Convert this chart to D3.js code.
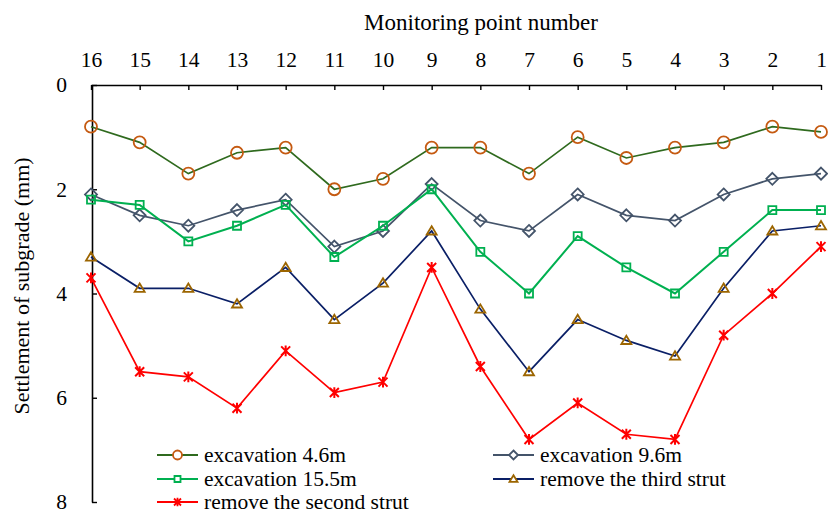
<!DOCTYPE html>
<html>
<head>
<meta charset="utf-8">
<script src="https://cdn.jsdelivr.net/npm/d3@7"></script>
<style>
  html, body { margin: 0; padding: 0; background: #fff; }
  svg { display: block; font-family: "Liberation Serif", "Times New Roman", serif; }
</style>
</head>
<body>
<div id="chart"></div>
<script>
// monitoring points, read right-to-left as in the original figure
const points = [16, 15, 14, 13, 12, 11, 10, 9, 8, 7, 6, 5, 4, 3, 2, 1];
const yTicks = [0, 2, 4, 6, 8];

const seriesNames = [
    'excavation 4.6m',
    'excavation 9.6m',
    'excavation 15.5m',
    'remove the third strut',
    'remove the second strut'
];

const exc46 = [0.8, 1.1, 1.7, 1.3, 1.2, 2.0, 1.8, 1.2, 1.2, 1.7, 1.0, 1.4, 1.2, 1.1, 0.8, 0.9];
const exc96 = [2.1, 2.5, 2.7, 2.4, 2.2, 3.1, 2.8, 1.9, 2.6, 2.8, 2.1, 2.5, 2.6, 2.1, 1.8, 1.7];
const exc155 = [2.2, 2.3, 3.0, 2.7, 2.3, 3.3, 2.7, 2.0, 3.2, 4.0, 2.9, 3.5, 4.0, 3.2, 2.4, 2.4];
const removeThird = [3.3, 3.9, 3.9, 4.2, 3.5, 4.5, 3.8, 2.8, 4.3, 5.5, 4.5, 4.9, 5.2, 3.9, 2.8, 2.7];
const removeSecond = [3.7, 5.5, 5.6, 6.2, 5.1, 5.9, 5.7, 3.5, 5.4, 6.8, 6.1, 6.7, 6.8, 4.8, 4.0, 3.1];

const width = 828;
const height = 513;

// style per series
const styles = [
    { line: '#2f6a1e', marker: '#c55a11', shape: 'circle' },
    { line: '#44546a', marker: '#44546a', shape: 'diamond' },
    { line: '#00b050', marker: '#00b050', shape: 'square' },
    { line: '#0a1f66', marker: '#9c6500', shape: 'triangle' },
    { line: '#ff0000', marker: '#ff0000', shape: 'star' }
];

const seriesData = [exc46, exc96, exc155, removeThird, removeSecond];

const svg = d3.select('#chart')
    .append('svg')
    .attr('width', width)
    .attr('height', height);

const xScale = d3.scalePoint()
    .domain(points)
    .range([91, 821]);

const yScale = d3.scaleLinear()
    .domain([0, 8])
    .range([85, 502]);

// marker paths, centred at 0,0
function markerPath(shape, s) {
    if (shape === 'circle') {
        const p = d3.path();
        p.arc(0, 0, s, 0, Math.PI * 2);
        return p.toString();
    }
    if (shape === 'square') {
        return `M${-s},${-s}H${s}V${s}H${-s}Z`;
    }
    if (shape === 'diamond') {
        return `M0,${-s}L${s},0L0,${s}L${-s},0Z`;
    }
    if (shape === 'triangle') {
        const h = s * 0.95;
        return `M0,${-h}L${s},${h * 0.75}L${-s},${h * 0.75}Z`;
    }
    // asterisk: x plus vertical bar
    return `M${-s},${-s}L${s},${s}M${-s},${s}L${s},${-s}M0,${-s * 1.2}V${s * 1.2}`;
}

// top axis (monitoring points)
const xAxis = d3.axisTop(xScale)
    .tickSize(-5)
    .tickSizeOuter(0)
    .tickPadding(18);

svg.append('g')
    .attr('id', 'x-axis')
    .attr('transform', `translate(0, ${yScale(0)})`)
    .call(xAxis)
    .call(g => g.select('.domain').attr('stroke', '#000').attr('stroke-width', 1.6))
    .call(g => g.selectAll('.tick line').attr('stroke', '#000').attr('stroke-width', 1.4))
    .call(g => g.selectAll('.tick text')
        .attr('fill', '#000')
        .style('font-family', '"Liberation Serif", serif')
        .style('font-size', '21.5px'));

// left axis (settlement)
const yAxis = d3.axisLeft(yScale)
    .tickValues(yTicks)
    .tickSize(-5)
    .tickSizeOuter(0)
    .tickPadding(25);

svg.append('g')
    .attr('id', 'y-axis')
    .attr('transform', `translate(${xScale(16) + 1}, 0)`)
    .call(yAxis)
    .call(g => g.select('.domain').attr('stroke', '#000').attr('stroke-width', 1.6))
    .call(g => g.selectAll('.tick line').attr('stroke', '#000').attr('stroke-width', 1.4))
    .call(g => g.selectAll('.tick text')
        .attr('fill', '#000')
        .style('font-family', '"Liberation Serif", serif')
        .style('font-size', '21.5px'));

// axis titles
svg.append('text')
    .attr('x', 481)
    .attr('y', 30)
    .attr('text-anchor', 'middle')
    .style('font-size', '23px')
    .text('Monitoring point number');

svg.append('text')
    .attr('transform', 'translate(29, 286) rotate(-90)')
    .attr('text-anchor', 'middle')
    .style('font-size', '22px')
    .text('Settlement of subgrade (mm)');

// series lines + markers
const line = d3.line()
    .x(d => xScale(d.point))
    .y(d => yScale(d.value));

seriesData.forEach((values, i) => {
    const st = styles[i];
    const rows = points.map((p, j) => ({ point: p, value: values[j] }));
    const g = svg.append('g').attr('class', 'series');

    g.append('path')
        .datum(rows)
        .attr('fill', 'none')
        .attr('stroke', st.line)
        .attr('stroke-width', i === 2 ? 2 : 1.7)
        .attr('d', line);

    const size = { circle: 6, square: 4, diamond: 6, triangle: 5, star: 4.5 }[st.shape];
    g.selectAll('.mark')
        .data(rows)
        .enter()
        .append('path')
        .attr('class', 'mark')
        .attr('transform', d => `translate(${xScale(d.point)}, ${yScale(d.value)})`)
        .attr('d', markerPath(st.shape, size))
        .attr('fill', 'none')
        .attr('stroke', st.marker)
        .attr('stroke-width', st.shape === 'star' ? 2 : 1.8);
});

// legend (two columns, row-wise order)
const legendPos = [
    { x: 157, y: 455 },
    { x: 493, y: 455 },
    { x: 157, y: 479 },
    { x: 493, y: 479 },
    { x: 157, y: 502 }
];

const legend = svg.append('g').attr('id', 'legend');
seriesNames.forEach((name, i) => {
    const st = styles[i];
    const pos = legendPos[i];
    const item = legend.append('g').attr('transform', `translate(${pos.x}, ${pos.y})`);
    item.append('line')
        .attr('x1', 0).attr('x2', 41)
        .attr('y1', 0).attr('y2', 0)
        .attr('stroke', st.line)
        .attr('stroke-width', 2);
    const ls = { circle: 4.5, square: 3, diamond: 4.5, triangle: 4, star: 3.5 }[st.shape];
    item.append('path')
        .attr('transform', 'translate(20.5, 0)')
        .attr('d', markerPath(st.shape, ls))
        .attr('fill', st.shape === 'star' ? 'none' : '#fff')
        .attr('stroke', st.marker)
        .attr('stroke-width', 1.8);
    item.append('text')
        .attr('x', 47)
        .attr('y', 7)
        .style('font-size', '21.5px')
        .text(name);
});
</script>
</body>
</html>
